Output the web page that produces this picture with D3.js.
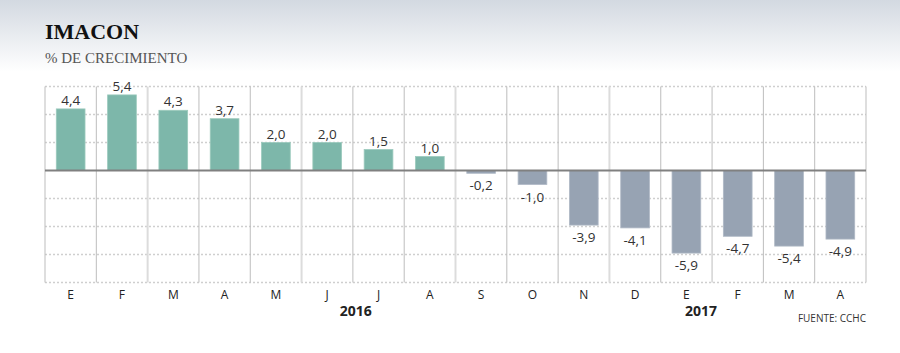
<!DOCTYPE html>
<html><head><meta charset="utf-8">
<script src="https://cdn.jsdelivr.net/npm/d3@7"></script>
<style>body{margin:0;background:#fff}svg{display:block}</style>
</head><body>
<script>
const months = ["E","F","M","A","M","J","J","A","S","O","N","D","E","F","M","A"];
const values = [4.4,5.4,4.3,3.7,2.0,2.0,1.5,1.0,-0.2,-1.0,-3.9,-4.1,-5.9,-4.7,-5.4,-4.9];
const labels = ["4,4","5,4","4,3","3,7","2,0","2,0","1,5","1,0","-0,2","-1,0","-3,9","-4,1","-5,9","-4,7","-5,4","-4,9"];
const gridTicks = [6,4,2,-2,-4,-6,-8];
const years = ["2016","2017"];
const lightDividers = [2,5,8,11];

const W=900,H=353;
const svg=d3.select("body").append("svg").attr("width",W).attr("height",H);
const defs=svg.append("defs");
const g=defs.append("linearGradient").attr("id","bg").attr("x1",0).attr("y1",0).attr("x2",0).attr("y2",1);
g.append("stop").attr("offset","0%").attr("stop-color","#d3d9e1");
g.append("stop").attr("offset","100%").attr("stop-color","#ffffff");
svg.append("rect").attr("width",W).attr("height",72).attr("fill","url(#bg)");

svg.append("text").attr("x",45).attr("y",39).text("IMACON")
  .attr("font-family","Liberation Serif, serif").attr("font-weight","bold").attr("font-size",22).attr("fill","#111");
svg.append("text").attr("x",45).attr("y",63).text("% DE CRECIMIENTO")
  .attr("font-family","Liberation Serif, serif").attr("font-size",15).attr("fill","#555");

const x=d3.scaleBand().domain(d3.range(months.length)).range([45,866]).paddingInner(0.44).paddingOuter(0.22);
const y=d3.scaleLinear().domain([-8,6]).range([282.5,86.5]);
const x0=45, x1=866;
const colEdge=i=>x0+i*(x1-x0)/months.length;

// horizontal dotted grid
svg.append("g").selectAll("line").data(gridTicks).join("line")
  .attr("x1",x0).attr("x2",x1).attr("y1",d=>y(d)).attr("y2",d=>y(d))
  .attr("stroke","#cfcfcf").attr("stroke-width",1.5).attr("stroke-dasharray","2,2");

// vertical dividers
svg.append("g").selectAll("line").data(d3.range(months.length+1)).join("line")
  .attr("x1",i=>colEdge(i)).attr("x2",i=>colEdge(i)).attr("y1",y(6)).attr("y2",y(-8))
  .attr("stroke",i=>lightDividers.includes(i)?"#dcdcdc":"#bdbdbd")
  .attr("stroke-width",i=>lightDividers.includes(i)?2:1);

// bars
svg.append("g").selectAll("rect").data(values).join("rect")
  .attr("x",(d,i)=>x(i)).attr("width",x.bandwidth())
  .attr("y",d=>Math.min(y(d),y(0))).attr("height",d=>Math.abs(y(d)-y(0)))
  .attr("fill",d=>d>=0?"#7db7aa":"#97a3b3")
  .attr("stroke",d=>d>=0?"#9ccabd":"#b0b9c6").attr("stroke-width",0.8);

// zero line
svg.append("line").attr("x1",x0).attr("x2",x1).attr("y1",y(0)).attr("y2",y(0))
  .attr("stroke","#808080").attr("stroke-width",2);

// value labels
svg.append("g").selectAll("text").data(values).join("text")
  .attr("x",(d,i)=>x(i)+x.bandwidth()/2)
  .attr("y",d=>d>=0?y(d)-4:y(d)+17)
  .attr("text-anchor","middle").text((d,i)=>labels[i])
  .attr("font-family","Open Sans, sans-serif").attr("font-size",13.5).attr("fill","#333");

// month labels
svg.append("g").selectAll("text").data(months).join("text")
  .attr("x",(d,i)=>x(i)+x.bandwidth()/2).attr("y",299)
  .attr("text-anchor","middle").text(d=>d)
  .attr("font-family","Open Sans, sans-serif").attr("font-size",12).attr("fill","#222");

// years
svg.append("text").attr("x",colEdge(6)+3).attr("y",316).attr("text-anchor","middle").text(years[0])
  .attr("font-family","Open Sans, sans-serif").attr("font-weight","bold").attr("font-size",14).attr("fill","#222");
svg.append("text").attr("x",colEdge(13)-11).attr("y",316).attr("text-anchor","middle").text(years[1])
  .attr("font-family","Open Sans, sans-serif").attr("font-weight","bold").attr("font-size",14).attr("fill","#222");

svg.append("text").attr("x",x1).attr("y",322).attr("text-anchor","end").text("FUENTE: CCHC")
  .attr("font-family","Open Sans, sans-serif").attr("font-size",10).attr("fill","#333");
</script>
</body></html>
